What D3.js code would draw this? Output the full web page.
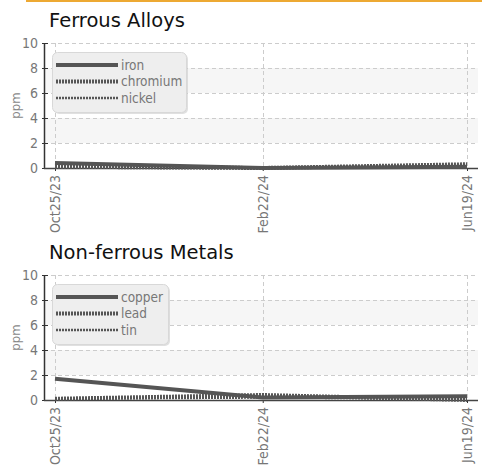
<!DOCTYPE html>
<html><head><meta charset="utf-8">
<script src="https://cdn.jsdelivr.net/npm/d3@7"></script>
<style>
body{margin:0;background:#fff;}
svg{display:block;}
</style></head>
<body>
<svg id="c" width="482" height="465"></svg>
<script>
const dates = ["2023-10-25", "2024-02-22", "2024-06-19"];
const tickLabels = ["Oct25/23", "Feb22/24", "Jun19/24"];
const yTicks = [0, 2, 4, 6, 8, 10];

const ferrousTitle = "Ferrous Alloys";
const ferrousNames = ["iron", "chromium", "nickel"];
const iron = [0.4, 0.0, 0.1];
const chromium = [0.1, 0.0, 0.3];
const nickel = [0.1, 0.0, 0.2];

const nonFerrousTitle = "Non-ferrous Metals";
const nonFerrousNames = ["copper", "lead", "tin"];
const copper = [1.7, 0.2, 0.3];
const lead = [0.1, 0.4, 0.0];
const tin = [0.1, 0.2, 0.1];

const parse = d3.timeParse("%Y-%m-%d");
const svg = d3.select("#c");
const narrow = "Liberation Sans Narrow, DejaVu Sans Condensed, sans-serif";

svg.append("rect").attr("x", 26).attr("y", 0).attr("width", 456).attr("height", 2).attr("fill", "#eda933");

const styles = [
  {w: 4, dash: null},
  {w: 4, dash: "2,1"},
  {w: 2.5, dash: "2,1"}
];

function chart(top, title, names, series, legendW) {
  const g = svg.append("g").attr("transform", `translate(0,${top})`);
  const x = d3.scaleTime().domain([parse(dates[0]), parse(dates[2])]).range([55, 467]);
  const y = d3.scaleLinear().domain([0, 10]).range([168, 43]);

  g.append("text").attr("x", 49).attr("y", 27).text(title)
    .attr("font-family", "DejaVu Sans, Verdana, sans-serif").attr("font-size", 19.5).attr("fill", "#111");

  // bands
  [[6, 8], [2, 4]].forEach(b => {
    g.append("rect").attr("x", 44).attr("width", 434).attr("y", y(b[1])).attr("height", y(b[0]) - y(b[1])).attr("fill", "#f6f6f6");
  });
  // grid
  g.selectAll(".hg").data(yTicks.filter(v => v > 0)).enter().append("line")
    .attr("x1", 44).attr("x2", 478).attr("y1", d => y(d) + 0.5).attr("y2", d => y(d) + 0.5)
    .attr("stroke", "#ccc").attr("stroke-dasharray", "4,3");
  g.selectAll(".vg").data(dates).enter().append("line")
    .attr("x1", d => Math.round(x(parse(d))) + 0.5).attr("x2", d => Math.round(x(parse(d))) + 0.5)
    .attr("y1", 43).attr("y2", 168)
    .attr("stroke", "#ccc").attr("stroke-dasharray", "4,3");

  // y axis
  const ya = g.append("g").attr("transform", "translate(44,0)")
    .call(d3.axisRight(y).tickValues(yTicks).tickSize(4).tickFormat(d3.format("d")));
  ya.select(".domain").remove();
  ya.selectAll(".tick text").attr("x", -6).attr("text-anchor", "end")
    .attr("font-family", narrow).attr("font-size", 14).attr("fill", "#777");
  ya.selectAll(".tick line").attr("stroke", "#333").attr("x1", -2);
  g.append("line").attr("x1", 44.5).attr("x2", 44.5).attr("y1", 43).attr("y2", 169).attr("stroke", "#333").attr("stroke-width", 1.5);

  // x axis
  const xa = g.append("g").attr("transform", "translate(0,168)")
    .call(d3.axisBottom(x).tickValues(dates.map(parse)).tickSize(3).tickFormat((d, i) => tickLabels[i]));
  xa.select(".domain").remove();
  xa.selectAll(".tick line").attr("stroke", "#333");
  xa.selectAll(".tick text").attr("transform", "rotate(-90)").attr("x", -7).attr("y", 0).attr("dy", "0.35em")
    .attr("text-anchor", "end")
    .attr("font-family", narrow).attr("font-size", 14).attr("fill", "#777");
  g.append("line").attr("x1", 44).attr("x2", 478).attr("y1", 168.5).attr("y2", 168.5).attr("stroke", "#444").attr("stroke-width", 1.5);

  g.append("text").attr("transform", `translate(20,${(y(0) + y(10)) / 2}) rotate(-90)`)
    .attr("text-anchor", "middle").text("ppm")
    .attr("font-family", narrow).attr("font-size", 13).attr("fill", "#888");

  // lines
  const line = d3.line().x((d, i) => x(parse(dates[i]))).y(d => y(d));
  series.forEach((s, k) => {
    g.append("path").attr("d", line(s)).attr("fill", "none").attr("stroke", "#555")
      .attr("stroke-width", styles[k].w).attr("stroke-dasharray", styles[k].dash);
  });

  // legend
  const lg = g.append("g");
  lg.append("rect").attr("x", 54).attr("y", 54).attr("width", legendW).attr("height", 60).attr("rx", 5)
    .attr("fill", "#ccc").attr("opacity", 0.6);
  lg.append("rect").attr("x", 52.5).attr("y", 52.5).attr("width", legendW).attr("height", 60).attr("rx", 5)
    .attr("fill", "#eeeeee").attr("stroke", "#d8d8d8");
  names.forEach((n, k) => {
    const yy = 65 + k * 16.5;
    lg.append("line").attr("x1", 56).attr("x2", 118).attr("y1", yy).attr("y2", yy)
      .attr("stroke", "#555").attr("stroke-width", styles[k].w).attr("stroke-dasharray", styles[k].dash);
    lg.append("text").attr("x", 121).attr("y", yy).attr("dy", "0.35em").text(n)
      .attr("font-family", narrow).attr("font-size", 13.5).attr("fill", "#777");
  });
}

chart(0, ferrousTitle, ferrousNames, [iron, chromium, nickel], 134);
chart(232, nonFerrousTitle, nonFerrousNames, [copper, lead, tin], 116);
</script>
</body></html>
